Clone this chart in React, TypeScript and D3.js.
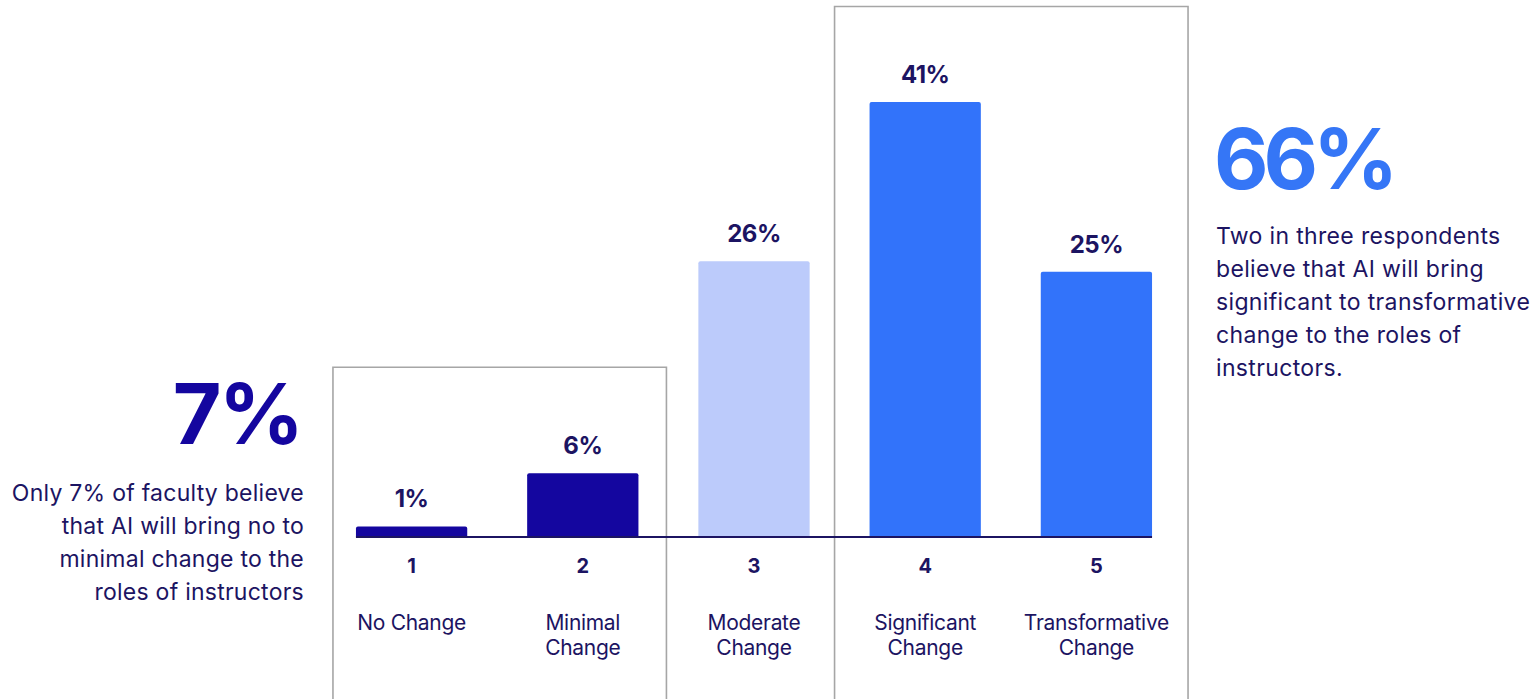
import React from "react";
import * as d3 from "d3";

const categories = ["1", "2", "3", "4", "5"];
const categoryLabels = [["No Change"], ["Minimal", "Change"], ["Moderate", "Change"], ["Significant", "Change"], ["Transformative", "Change"]];
const values = [1, 6, 26, 41, 25];
const valueLabels = ["1%", "6%", "26%", "41%", "25%"];
const barColors = ["#14069f", "#14069f", "#bccbfb", "#3273fa", "#3273fa"];
const leftStat = "7%";
const leftText = ["Only 7% of faculty believe", "that AI will bring no to", "minimal change to the", "roles of instructors"];
const rightStat = "66%";
const rightText = ["Two in three respondents", "believe that AI will bring", "significant to transformative", "change to the roles of", "instructors."];

const W = 1534, H = 699;
const FONT = "Inter, 'Noto Sans', sans-serif";
const NAVY = "#1c1462";

export default function App() {
  const x = d3.scaleBand<string>().domain(categories).range([326, 1182]).paddingInner(0.35).paddingOuter(0.175);
  const y = d3.scaleLinear().domain([0, 41]).range([537, 102]);
  const bw = x.bandwidth();
  const base = y(0);
  const leftBox = { x0: (x("1") as number) - 23, x1: (x("2") as number) + bw + 28, top: y(16) };
  const rightBox = { x0: (x("4") as number) - 35, x1: (x("5") as number) + bw + 36, top: y(50) };
  return (
    <svg width={W} height={H} style={{ position: "absolute", left: 0, top: 0 }} fontFamily={FONT}>
      <rect x={0} y={0} width={W} height={H} fill="#fff" />
      {[leftBox, rightBox].map((b, i) => (
        <path key={i} d={`M${b.x0},${H + 5}V${b.top}H${b.x1}V${H + 5}`} fill="none" stroke="#a6a6a6" strokeWidth={1.6} />
      ))}
      {categories.map((c, i) => {
        const x0 = x(c) as number;
        const top = y(values[i]);
        const r = 2;
        const d = `M${x0},${base}V${top + r}Q${x0},${top} ${x0 + r},${top}H${x0 + bw - r}Q${x0 + bw},${top} ${x0 + bw},${top + r}V${base}Z`;
        return (
          <g key={c}>
            <path d={d} fill={barColors[i]} />
            <text x={x0 + bw / 2} y={top - 19} textAnchor="middle" fontSize={24} fontWeight={700} fill={NAVY} letterSpacing={-0.5}>{valueLabels[i]}</text>
            <text x={x0 + bw / 2} y={base + 36} textAnchor="middle" fontSize={20} fontWeight={700} fill={NAVY}>{c}</text>
            {categoryLabels[i].map((l, j) => (
              <text key={j} x={x0 + bw / 2} y={base + 93 + j * 25} textAnchor="middle" fontSize={21} fill={NAVY} letterSpacing={-0.3}>{l}</text>
            ))}
          </g>
        );
      })}
      <line x1={x("1") as number} x2={(x("5") as number) + bw} y1={base} y2={base} stroke={NAVY} strokeWidth={2} />
      <text x={301} y={444} textAnchor="end" fontSize={84} fontWeight={700} fill="#14069f" letterSpacing={-3}>{leftStat}</text>
      {leftText.map((t, i) => (
        <text key={i} x={304} y={501 + i * 33} textAnchor="end" fontSize={23} fill={NAVY} letterSpacing={0.25}>{t}</text>
      ))}
      <text x={1214} y={189} fontSize={84} fontWeight={700} fill="#3576f6" letterSpacing={-5}>{rightStat}</text>
      {rightText.map((t, i) => (
        <text key={i} x={1216} y={244 + i * 33} fontSize={23} fill={NAVY} letterSpacing={0.35}>{t}</text>
      ))}
    </svg>
  );
}
